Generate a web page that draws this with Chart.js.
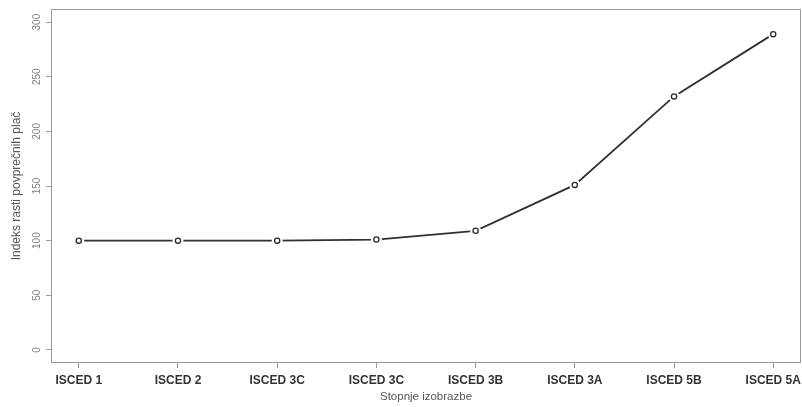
<!DOCTYPE html>
<html>
<head>
<meta charset="utf-8">
<script src="https://cdn.jsdelivr.net/npm/chart.js@4/dist/chart.umd.min.js"></script>
<style>
html,body{margin:0;padding:0;background:#fff;}
#wrap{width:802px;height:407px;}
</style>
</head>
<body>
<div id="wrap"><canvas id="c" width="802" height="407"></canvas></div>
<script>
const categories = ["ISCED 1","ISCED 2","ISCED 3C","ISCED 3C","ISCED 3B","ISCED 3A","ISCED 5B","ISCED 5A"];
const values = [100, 100, 100, 101, 109, 151, 232, 289];
const yTicks = [0, 50, 100, 150, 200, 250, 300];
const xTitle = "Stopnje izobrazbe";
const yTitle = "Indeks rasti povprečnih plač";

const pts = values.map((v, i) => ({x: i, y: v}));
const FONT = "'Liberation Sans', Arial, sans-serif";

const boxPlugin = {
  id: 'box',
  afterDraw(chart) {
    const ctx = chart.ctx, a = chart.chartArea;
    ctx.save();
    ctx.strokeStyle = '#9a9a9a';
    ctx.lineWidth = 1;
    ctx.strokeRect(Math.round(a.left) + 0.5, Math.round(a.top) + 0.5,
                   Math.round(a.right - a.left) - 1, Math.round(a.bottom - a.top) - 1);
    // rotated y tick labels (R style)
    const ys = chart.scales.y;
    ctx.fillStyle = '#808080';
    ctx.font = "10px " + FONT;
    ctx.textAlign = 'center';
    ctx.textBaseline = 'middle';
    ys.ticks.forEach(t => {
      const py = ys.getPixelForValue(t.value);
      ctx.save();
      ctx.translate(37, py);
      ctx.rotate(-Math.PI / 2);
      ctx.fillText(String(t.value), 0, 0);
      ctx.restore();
    });
    ctx.restore();
  }
};

new Chart(document.getElementById('c'), {
  type: 'line',
  data: {
    datasets: [
      {
        data: pts, order: 0, showLine: false,
        pointRadius: 2.6, pointBorderWidth: 1.3,
        pointBorderColor: '#2a2a2a', pointBackgroundColor: '#ffffff'
      },
      {
        data: pts, order: 1, showLine: false,
        pointRadius: 5.5, pointBorderWidth: 0,
        pointBackgroundColor: '#ffffff', pointBorderColor: '#ffffff'
      },
      {
        data: pts, order: 2, showLine: true,
        borderColor: '#303030', borderWidth: 1.8,
        pointRadius: 0, tension: 0, fill: false
      }
    ]
  },
  options: {
    responsive: false,
    animation: false,
    devicePixelRatio: 1,
    layout: { autoPadding: false, padding: { top: 9, right: 1, left: 0, bottom: 0 } },
    plugins: { legend: { display: false }, tooltip: { enabled: false } },
    scales: {
      x: {
        type: 'linear',
        min: -0.28, max: 7.28,
        afterBuildTicks: s => { s.ticks = categories.map((c, i) => ({value: i})); },
        afterFit: s => { s.height = 44; s.paddingLeft = 0; s.paddingRight = 0; },
        border: { display: false },
        grid: { drawOnChartArea: false, drawTicks: true, tickLength: 5, color: '#9a9a9a', lineWidth: 1 },
        ticks: {
          autoSkip: false, maxRotation: 0, minRotation: 0, padding: 5,
          color: '#333333',
          font: { family: FONT, size: 12, weight: 'bold' },
          callback: v => categories[v]
        },
        title: {
          display: true, text: xTitle, color: '#555555',
          font: { family: FONT, size: 11.5 },
          padding: { top: 0, bottom: 3 }
        }
      },
      y: {
        type: 'linear',
        min: -12, max: 312,
        afterBuildTicks: s => { s.ticks = yTicks.map(v => ({value: v})); },
        afterFit: s => { s.width = 51; s.paddingTop = 0; s.paddingBottom = 0; },
        border: { display: false },
        grid: { drawOnChartArea: false, drawTicks: true, tickLength: 5, color: '#9a9a9a', lineWidth: 1 },
        ticks: { display: false },
        title: {
          display: true, text: yTitle, color: '#555555',
          font: { family: FONT, size: 12 },
          padding: { top: 9, bottom: 0 }
        }
      }
    }
  },
  plugins: [boxPlugin]
});
</script>
</body>
</html>
